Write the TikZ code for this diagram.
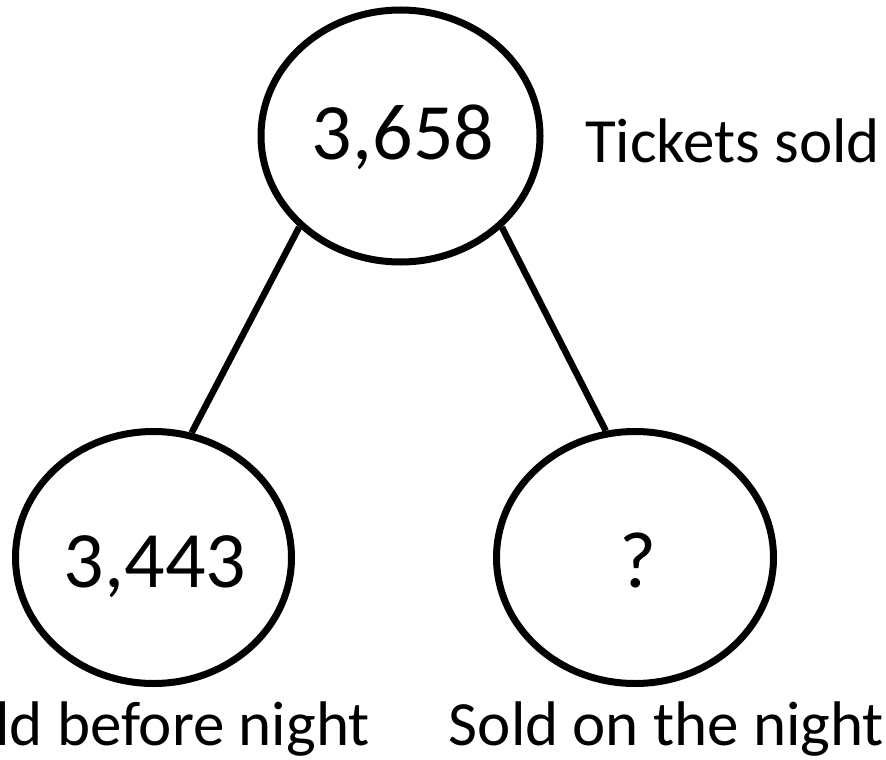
\documentclass[tikz,border=0pt]{standalone}
\usepackage{fontspec}
\setmainfont{Carlito}
\usetikzlibrary{shapes.geometric}
\begin{document}
\begin{tikzpicture}[x=1pt,y=-1pt,
  blob/.style={draw=black, line width=7pt, ellipse, inner sep=0pt, minimum width=#1},
  blob/.default=277pt,
  num/.style={inner sep=0pt, anchor=base, font=\fontsize{80}{96}\selectfont},
  lbl/.style={inner sep=0pt, font=\fontsize{63}{76}\selectfont},
  link/.style={draw=black, line width=6.5pt}]
\useasboundingbox (0,0) rectangle (886,760);
\clip (0,0) rectangle (886,760);
\node[blob=279pt, minimum height=252pt] (top) at (400.5,136) {};
\node[blob=276pt, minimum height=252pt] (left) at (153.5,557.5) {};
\node[blob=277pt, minimum height=252pt] (right) at (635,557.5) {};
\node[num] (topnum) at (403,159) {3,658};
\node[num] (leftnum) at (155,587) {3,443};
\node[num] (rightnum) at (638,587) {?};
\node[lbl, anchor=base west] (toplbl) at (585,162) {Tickets sold};
\node[lbl, anchor=base east] (leftlbl) at (370,745) {Sold before night};
\node[lbl, anchor=base] (rightlbl) at (666.5,745) {Sold on the night};
\draw[link] (top.222.5) -- (left.73.4);
\draw[link] (top.318.1) -- (right.103.9);
\end{tikzpicture}
\end{document}
